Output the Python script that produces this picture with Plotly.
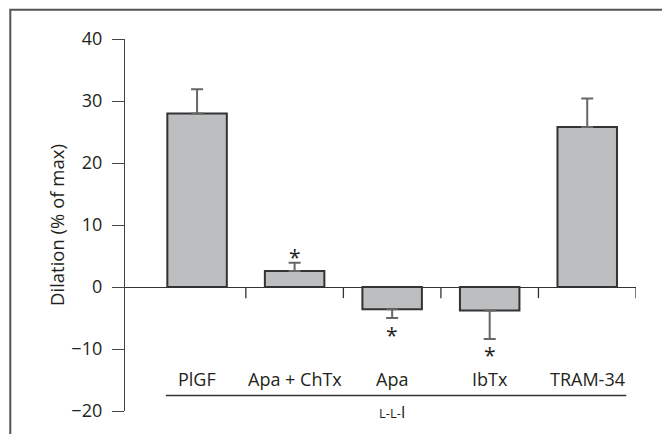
import plotly.graph_objects as go

categories = ["PlGF", "Apa + ChTx", "Apa", "IbTx", "TRAM-34"]
values = [28.0, 2.6, -3.6, -3.8, 25.8]
err_up = [3.9, 1.3, 0.0, 0.0, 4.6]
err_down = [0.0, 0.0, 1.4, 4.6, 0.0]
sig_pos = [None, 5.7, -6.9, -10.1, None]
y_ticks = [-20, -10, 0, 10, 20, 30, 40]
group_label = "<span style='font-size:13px'>L</span>-<span style='font-size:13px'>L</span>-<span style='font-size:17px'>l</span>"

FONT = "Open Sans"
TXT = "#231f20"

fig = go.Figure()
fig.add_trace(go.Bar(
    x=list(range(len(categories))), y=values, width=0.61,
    marker=dict(color="#bcbec0", line=dict(color="#333333", width=2)),
    error_y=dict(type="data", symmetric=False, array=err_up, arrayminus=err_down,
                 color="#666666", thickness=2, width=6),
    showlegend=False,
))

ann = []
for i, c in enumerate(categories):
    ann.append(dict(x=i, y=-14.8, xref="x", yref="y", text=c, showarrow=False,
                    font=dict(family=FONT, size=18, color=TXT)))
    if sig_pos[i] is not None:
        ann.append(dict(x=i, y=sig_pos[i], xref="x", yref="y", text="*", showarrow=False,
                        font=dict(family=FONT, size=21, color=TXT), yshift=-5))
ann.append(dict(x=2, y=-20.0, xref="x", yref="y", text=group_label, showarrow=False,
                font=dict(family=FONT, size=13, color=TXT)))
ann.append(dict(x=-0.1351, y=0.5, xref="paper", yref="paper", text="Dilation (% of max)",
                textangle=-90, showarrow=False, xanchor="center", yanchor="middle",
                font=dict(family=FONT, size=18.5, color=TXT)))

shapes = []
for b in [0.5, 1.5, 2.5, 3.5, 4.5]:
    shapes.append(dict(type="line", xref="x", yref="y", x0=b, x1=b, y0=0, y1=-1.8,
                       line=dict(color="#333333", width=1.3)))
shapes.append(dict(type="line", xref="x", yref="y", x0=-0.32, x1=4.40, y0=-17.5, y1=-17.5,
                   line=dict(color="#333333", width=1.3)))
# outer frame
shapes.append(dict(type="path", xref="paper", yref="paper",
                   path="M -0.2245,-0.2 L -0.2245,1.0785 L 1.2,1.0785",
                   line=dict(color="#555555", width=2)))

fig.update_layout(
    width=662, height=434,
    margin=dict(l=125, r=26.4, t=39.3, b=21.3),
    paper_bgcolor="white", plot_bgcolor="white",
    font=dict(family=FONT, size=18, color=TXT),
    xaxis=dict(range=[-0.739, 4.5], visible=False, fixedrange=True),
    yaxis=dict(range=[-20, 40], tickvals=y_ticks, showgrid=False,
               showline=True, linecolor="#444444", linewidth=1.3,
               ticks="outside", ticklen=12, tickcolor="#444444", tickwidth=1.3,
               ticklabelstandoff=6, fixedrange=True,
               zeroline=True, zerolinecolor="#333333", zerolinewidth=1.3,
               tickfont=dict(family=FONT, size=18, color=TXT)),
    annotations=ann, shapes=shapes,
)
fig.write_html("out.html", config={"displayModeBar": False},
               post_script="document.body.style.margin='0px';document.body.style.overflow='hidden';")
